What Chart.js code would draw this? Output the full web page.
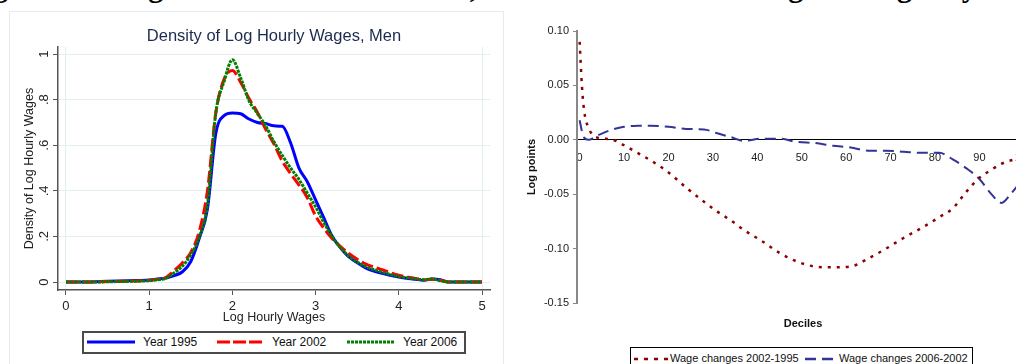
<!DOCTYPE html>
<html>
<head>
<meta charset="utf-8">
<script src="https://cdn.jsdelivr.net/npm/chart.js@4"></script>
<style>
  html, body { margin: 0; padding: 0; background: #fff; }
  body { position: relative; width: 1016px; height: 364px; overflow: hidden; font-family: "Liberation Sans", Arial, sans-serif; }
  .cap { position: absolute; top: -28px; font: bold 30px "Liberation Serif", "Times New Roman", serif; line-height: 30px; white-space: nowrap; color: #000; }
  #leftPanel { position: absolute; left: 9px; top: 11px; width: 495px; height: 370px; border: 1px solid #e4ecf2; box-sizing: border-box; }
  #densityChart { position: absolute; left: 10px; top: 12px; }
  #changeChart { position: absolute; left: 505px; top: 0; }
  .legend { position: absolute; box-sizing: border-box; background: #fff; }
  .legend svg { position: absolute; }
  .legend span { position: absolute; white-space: nowrap; color: #111; }
  #leftLegend { left: 82px; top: 331px; width: 384px; height: 23px; border: 2px solid #4a4a4a; }
  #leftLegend span { font-size: 12px; line-height: 14px; top: 2px; }
  #rightLegend { left: 630px; top: 347px; width: 343px; height: 24px; border: 1px solid #000; }
  #rightLegend span { font-size: 11px; line-height: 13px; top: 4px; }
</style>
</head>
<body>
<span class="cap" style="left:-42px">Log</span>
<span class="cap" style="left:105px">Wage</span>
<span class="cap" style="left:313px">Distribution,</span>
<span class="cap" style="left:745px">Wage</span>
<span class="cap" style="left:827px">Changes</span>
<span class="cap" style="left:945px">by</span>

<div id="leftPanel"></div>
<canvas id="densityChart" width="493" height="316"></canvas>
<div id="leftLegend" class="legend">
  <svg style="left:3px;top:6px" width="48" height="6"><line x1="0" y1="3" x2="48" y2="3" stroke="#0000ff" stroke-width="3"/></svg>
  <span style="left:59px">Year 1995</span>
  <svg style="left:133px;top:6px" width="48" height="6"><line x1="0" y1="3" x2="48" y2="3" stroke="#ff0000" stroke-width="3" stroke-dasharray="13,3"/></svg>
  <span style="left:188px">Year 2002</span>
  <svg style="left:263px;top:6px" width="48" height="6"><line x1="0" y1="3" x2="48" y2="3" stroke="#008000" stroke-width="3" stroke-dasharray="3,1"/></svg>
  <span style="left:319px">Year 2006</span>
</div>

<canvas id="changeChart" width="540" height="364"></canvas>
<div id="rightLegend" class="legend">
  <svg style="left:3px;top:9px" width="34" height="4"><line x1="0" y1="2" x2="34" y2="2" stroke="#8b0000" stroke-width="2.5" stroke-dasharray="4,6"/></svg>
  <span style="left:39px">Wage changes 2002-1995</span>
  <svg style="left:174px;top:9px" width="30" height="4"><line x1="0" y1="2" x2="30" y2="2" stroke="#333399" stroke-width="2.5" stroke-dasharray="11,6"/></svg>
  <span style="left:208px">Wage changes 2006-2002</span>
</div>

<script>
Chart.defaults.font.family = '"Liberation Sans", Arial, sans-serif';

// left panel: kernel densities of log hourly wages
const wageGrid = [0, 0.25, 0.5, 0.75, 1, 1.1, 1.2, 1.3, 1.4, 1.5, 1.6, 1.7, 1.8, 1.9, 2.0,
    2.1, 2.2, 2.3, 2.4, 2.5, 2.6, 2.7, 2.8, 2.9, 3.0, 3.1, 3.2, 3.3, 3.4, 3.5, 3.6,
    3.8, 4.0, 4.2, 4.3, 4.4, 4.5, 4.6, 4.8, 5.0];
const density1995 = [0, 0, 0.003, 0.006, 0.009, 0.013, 0.018, 0.028, 0.045, 0.09, 0.19, 0.32, 0.65, 0.73, 0.742,
    0.738, 0.715, 0.70, 0.695, 0.685, 0.683, 0.61, 0.50, 0.44, 0.36, 0.28, 0.20, 0.15, 0.11, 0.085, 0.062,
    0.038, 0.022, 0.012, 0.008, 0.013, 0.01, 0, 0, 0];
const density2002 = [0, 0, 0.002, 0.004, 0.008, 0.012, 0.02, 0.05, 0.085, 0.13, 0.22, 0.40, 0.74, 0.89, 0.928,
    0.875, 0.805, 0.745, 0.67, 0.605, 0.53, 0.475, 0.425, 0.37, 0.29, 0.235, 0.19, 0.155, 0.125, 0.10, 0.08,
    0.054, 0.03, 0.016, 0.009, 0.012, 0.008, 0, 0, 0];
const density2006 = [0, 0, 0.001, 0.003, 0.006, 0.01, 0.016, 0.04, 0.07, 0.12, 0.195, 0.34, 0.74, 0.88, 0.975,
    0.895, 0.795, 0.74, 0.685, 0.615, 0.555, 0.50, 0.45, 0.39, 0.33, 0.26, 0.20, 0.15, 0.113, 0.088, 0.068,
    0.043, 0.024, 0.014, 0.01, 0.014, 0.005, 0, 0, 0];
const wageTicks = [0, 1, 2, 3, 4, 5];
const densityTicks = [0, 0.2, 0.4, 0.6, 0.8, 1];
const densityTickLabels = ['0', '.2', '.4', '.6', '.8', '1'];

// right panel: wage changes by percentile
const percentiles = [0, 0.5, 1, 2, 4, 7, 10, 13, 16, 20, 24, 28, 31, 34, 37, 41, 45, 49, 53, 57,
    61, 65, 69, 73, 77, 81, 84, 87, 90, 92.5, 95, 97, 99];
const change2002vs1995 = [0.09, 0.05, 0.027, 0.011, 0.002, 0.0005, -0.005, -0.012, -0.019, -0.030,
    -0.044, -0.057, -0.066, -0.074, -0.083, -0.093, -0.104, -0.112, -0.1165, -0.1172,
    -0.1165, -0.109, -0.100, -0.090, -0.081, -0.071, -0.063, -0.048, -0.035, -0.028,
    -0.022, -0.019, -0.017];
const change2006vs2002 = [0.018, 0.008, 0.002, 0.0, 0.004, 0.009, 0.012, 0.0128, 0.013, 0.012,
    0.010, 0.0095, 0.006, 0.0025, -0.001, 0.001, 0.001, -0.002, -0.003, -0.0055,
    -0.007, -0.010, -0.010, -0.011, -0.012, -0.012, -0.018, -0.026, -0.036, -0.049,
    -0.058, -0.05, -0.04];
const decileTicks = [0, 10, 20, 30, 40, 50, 60, 70, 80, 90, 100];
const logPointTicks = [-0.15, -0.10, -0.05, 0, 0.05, 0.10];

function toPoints(xs, ys) {
    return xs.map((x, i) => ({ x: x, y: ys[i] }));
}

function setTicks(values) {
    return (scale) => { scale.ticks = values.map(v => ({ value: v })); };
}

const axisGray = '#555';
const gridBlue = '#e3eef0';

const densityText = {
    id: 'densityText',
    afterDraw(chart) {
        const { ctx, chartArea, scales } = chart;
        const midX = (chartArea.left + chartArea.right) / 2;
        const midY = (chartArea.top + chartArea.bottom) / 2;
        ctx.save();
        ctx.textAlign = 'center';
        ctx.textBaseline = 'middle';
        ctx.fillStyle = '#1c2b4d';
        ctx.font = '16.5px "Liberation Sans", Arial, sans-serif';
        ctx.fillText('Density of Log Hourly Wages, Men', midX, 24);

        ctx.fillStyle = '#222';
        ctx.font = '13px "Liberation Sans", Arial, sans-serif';
        densityTicks.forEach((v, i) => {
            ctx.save();
            ctx.translate(34, scales.y.getPixelForValue(v));
            ctx.rotate(-Math.PI / 2);
            ctx.fillText(densityTickLabels[i], 0, 0);
            ctx.restore();
        });
        ctx.save();
        ctx.translate(20, midY);
        ctx.rotate(-Math.PI / 2);
        ctx.font = '12.5px "Liberation Sans", Arial, sans-serif';
        ctx.fillText('Density of Log Hourly Wages', 0, 0);
        ctx.restore();
        ctx.font = '12.5px "Liberation Sans", Arial, sans-serif';
        ctx.fillText('Log Hourly Wages', midX, 306);
        ctx.restore();
    }
};

new Chart(document.getElementById('densityChart'), {
    type: 'line',
    data: {
        datasets: [
            { label: 'Year 1995', data: toPoints(wageGrid, density1995), borderColor: '#0000ff', borderWidth: 3, order: 3 },
            { label: 'Year 2002', data: toPoints(wageGrid, density2002), borderColor: '#ff0000', borderWidth: 3, borderDash: [12, 4], order: 2 },
            { label: 'Year 2006', data: toPoints(wageGrid, density2006), borderColor: '#008000', borderWidth: 3, borderDash: [3, 1], order: 1 }
        ]
    },
    options: {
        responsive: false,
        animation: false,
        layout: { padding: { top: 35, right: 13, left: 0, bottom: 0 } },
        elements: {
            point: { radius: 0 },
            line: { cubicInterpolationMode: 'monotone', fill: false }
        },
        plugins: { legend: { display: false }, tooltip: { enabled: false } },
        scales: {
            x: {
                type: 'linear',
                min: -0.096,
                max: 5.096,
                afterBuildTicks: setTicks(wageTicks),
                afterFit: (scale) => { scale.height = 38; },
                grid: {
                    color: (ctx) => (ctx.tick && (ctx.tick.value === 0 || ctx.tick.value === 5)) ? gridBlue : 'rgba(0,0,0,0)',
                    tickColor: axisGray,
                    tickLength: 5
                },
                border: { color: axisGray, width: 1.5 },
                ticks: { color: '#222', font: { size: 13 }, padding: 4, maxRotation: 0, autoSkip: false }
            },
            y: {
                type: 'linear',
                min: -0.035,
                max: 1.031,
                afterBuildTicks: setTicks(densityTicks),
                afterFit: (scale) => { scale.width = 48; },
                grid: { color: gridBlue, tickColor: axisGray, tickLength: 5 },
                border: { color: axisGray, width: 1.5 },
                ticks: { display: false }
            }
        }
    },
    plugins: [densityText]
});

const changeText = {
    id: 'changeText',
    afterDraw(chart) {
        const { ctx, chartArea } = chart;
        ctx.save();
        ctx.textAlign = 'center';
        ctx.textBaseline = 'middle';
        ctx.fillStyle = '#111';
        ctx.font = 'bold 11px "Liberation Sans", Arial, sans-serif';
        ctx.fillText('Deciles', 298, 324);
        ctx.translate(27, (chartArea.top + chartArea.bottom) / 2);
        ctx.rotate(-Math.PI / 2);
        ctx.fillText('Log points', 0, 0);
        ctx.restore();
    }
};

new Chart(document.getElementById('changeChart'), {
    type: 'line',
    data: {
        datasets: [
            { label: 'Wage changes 2002-1995', data: toPoints(percentiles, change2002vs1995), borderColor: '#8b0000', borderWidth: 2.5, borderDash: [3, 6] },
            { label: 'Wage changes 2006-2002', data: toPoints(percentiles, change2006vs2002), borderColor: '#333399', borderWidth: 2, borderDash: [11, 6] }
        ]
    },
    options: {
        responsive: false,
        animation: false,
        layout: { padding: { top: 31, right: 11, left: 0, bottom: 61 } },
        elements: {
            point: { radius: 0 },
            line: { cubicInterpolationMode: 'monotone', fill: false }
        },
        plugins: { legend: { display: false }, tooltip: { enabled: false } },
        scales: {
            x: {
                type: 'linear',
                position: { y: 0 },
                min: -0.6,
                max: 100,
                afterBuildTicks: setTicks(decileTicks),
                grid: { drawOnChartArea: false, drawTicks: false },
                border: { color: '#000', width: 1 },
                ticks: { color: '#222', font: { size: 11 }, padding: 12, maxRotation: 0, autoSkip: false }
            },
            y: {
                type: 'linear',
                min: -0.15,
                max: 0.10,
                afterBuildTicks: setTicks(logPointTicks),
                afterFit: (scale) => { scale.width = 72; },
                grid: { drawOnChartArea: false, tickLength: 4, tickColor: '#888' },
                border: { color: '#888', width: 2 },
                ticks: { color: '#222', font: { size: 11 }, padding: 4, callback: (v) => v.toFixed(2) }
            }
        }
    },
    plugins: [changeText]
});
</script>
</body>
</html>
